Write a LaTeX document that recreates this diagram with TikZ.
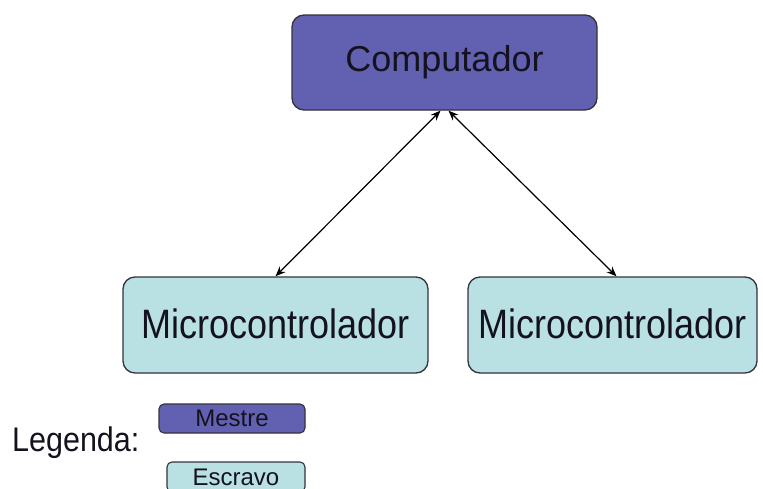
\documentclass[tikz,border=0pt]{standalone}
\usepackage{fontspec}
\setmainfont{Liberation Sans}
\usetikzlibrary{arrows.meta}
\definecolor{mestrec}{RGB}{98,96,176}
\definecolor{escravoc}{RGB}{185,224,227}
\definecolor{edgec}{RGB}{50,50,60}
\definecolor{textc}{RGB}{20,18,30}
\tikzset{
  bigbox/.style={draw=edgec, line width=1.3pt, rounded corners=12pt, inner sep=0pt,
    minimum height=96pt, text=textc, font=\fontsize{36}{40}\selectfont},
  smallbox/.style={draw=edgec, line width=1.1pt, rounded corners=5pt, inner sep=0pt,
    text=textc, font=\fontsize{24}{26}\selectfont},
  link/.style={line width=1.2pt, {Stealth[length=10pt,width=8pt]}-{Stealth[length=10pt,width=8pt]}}
}
\begin{document}
\begin{tikzpicture}[x=1pt,y=-1pt]
\useasboundingbox (0,0) rectangle (763,488);
\node[bigbox, fill=mestrec, minimum width=305pt, minimum height=95pt] (comp) at (444.5,62.5) {\raisebox{-1.5pt}{Computador}};
\node[bigbox, fill=escravoc, minimum width=305pt] (m1) at (275.5,325) {\raisebox{2pt}{\scalebox{1}[1.14]{Microcontrolador}}};
\node[bigbox, fill=escravoc, minimum width=289pt] (m2) at (612.5,325) {\raisebox{2pt}{\scalebox{1}[1.14]{Microcontrolador}}};
\draw[link] (m1.north) -- ([xshift=-4pt]comp.south);
\draw[link] ([xshift=4pt]m2.north) -- ([xshift=4pt]comp.south);
\node[anchor=west, text=textc, font=\fontsize{30.5}{34}\selectfont, inner sep=0pt] (leg) at (12,443) {\scalebox{1}[1.12]{Legenda:}};
\node[smallbox, fill=mestrec, minimum width=146pt, minimum height=29pt] (mes) at (232,418.5) {Mestre};
\node[smallbox, fill=escravoc, minimum width=138pt, minimum height=30pt] (esc) at (236,477) {Escravo};
\end{tikzpicture}
\end{document}
